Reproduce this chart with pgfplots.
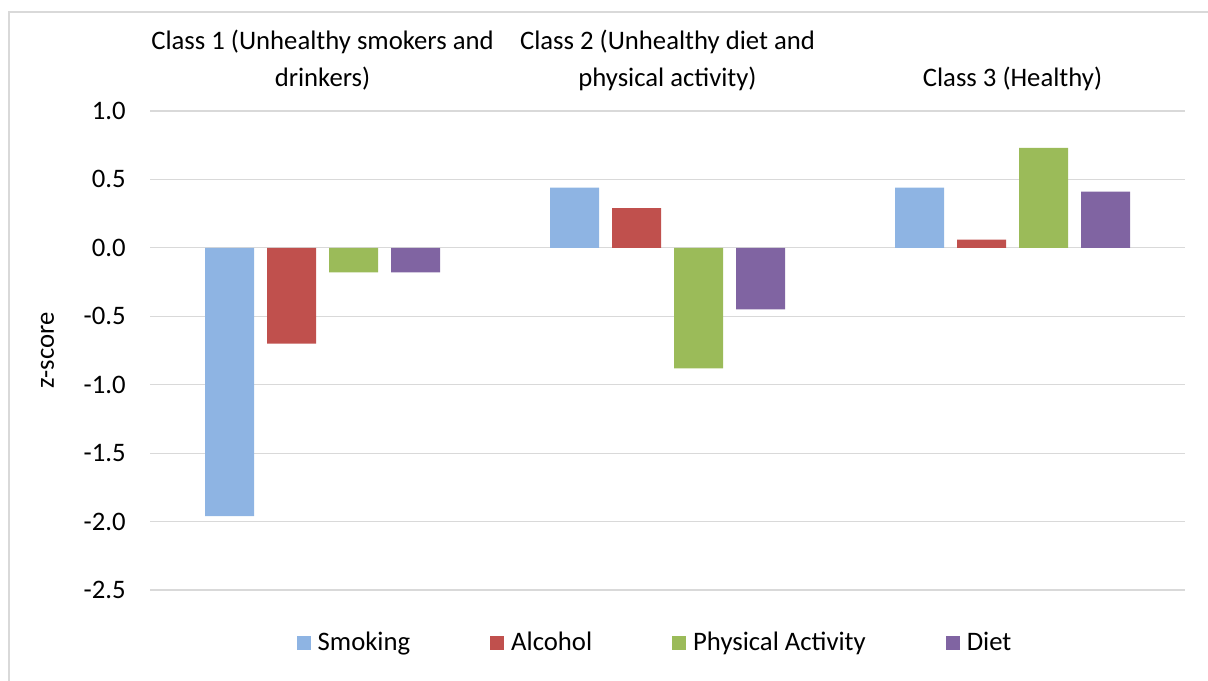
\documentclass[border=0pt]{standalone}
\usepackage{pgfplots}
\pgfplotsset{compat=1.18}
\usepackage{fontspec}
\setmainfont{Carlito}
\definecolor{smokecol}{HTML}{8EB4E3}
\definecolor{alccol}{HTML}{C0504D}
\definecolor{pacol}{HTML}{9BBB59}
\definecolor{dietcol}{HTML}{8064A2}
\definecolor{gridgray}{HTML}{D9D9D9}

\begin{document}
\begin{tikzpicture}
% 1 px of the 1208x680 reference = 0.5pt
\useasboundingbox (0,0) rectangle (604pt,340pt);
\draw[gridgray, line width=0.6pt] (4.5pt,-5pt) -- (4.5pt,334pt) -- (610pt,334pt);
\begin{axis}[
    at={(75pt,45pt)}, anchor=south west,
    width=517.5pt, height=239.5pt, scale only axis,
    font=\fontsize{13.35}{17.5}\selectfont,
    ybar=6.5pt, bar width=24.5pt,
    xmin=-0.5, xmax=2.5,
    ymin=-2.5, ymax=1.0,
    xtick={0,1,2},
    xticklabels={{Class 1 (Unhealthy smokers and\\drinkers)},
                 {Class 2 (Unhealthy diet and\\physical activity)},
                 {Class 3 (Healthy)}},
    xticklabel pos=right,
    xticklabel style={anchor=south, align=center, inner sep=0pt, yshift=10pt,
        font=\fontsize{13.35}{18.5}\selectfont},
    ytick={-2.5,-2,-1.5,-1,-0.5,0,0.5,1},
    yticklabels={-2.5,-2.0,-1.5,-1.0,-0.5,0.0,0.5,1.0},
    yticklabel style={anchor=east, inner sep=0pt, xshift=-12pt},
    ymajorgrids=true,
    grid style={gridgray, line width=0.6pt},
    axis line style={draw=none},
    major tick length=0pt,
    ylabel={z-score},
    ylabel style={at={(axis description cs:-0.099,0.5)}, anchor=center, rotate=0},
    legend columns=4,
    legend style={at={(axis description cs:0.487,-0.111)}, anchor=center,
        draw=none, fill=none, font=\fontsize{13.35}{17.5}\selectfont,
        nodes={inner sep=0pt},
        /tikz/every even column/.append style={column sep=40pt},
        /tikz/every odd column/.append style={column sep=3.5pt}},
    legend image code/.code={\fill[#1] (0pt,-3.5pt) rectangle (7pt,3.5pt);},
]
\addplot[fill=smokecol, draw=none] coordinates {(0,-1.96) (1,0.44) (2,0.44)};
\addlegendentry{Smoking}
\addplot[fill=alccol, draw=none] coordinates {(0,-0.70) (1,0.29) (2,0.06)};
\addlegendentry{Alcohol}
\addplot[fill=pacol, draw=none] coordinates {(0,-0.18) (1,-0.88) (2,0.73)};
\addlegendentry{Physical Activity}
\addplot[fill=dietcol, draw=none] coordinates {(0,-0.18) (1,-0.45) (2,0.41)};
\addlegendentry{Diet}
\end{axis}
\end{tikzpicture}
\end{document}
